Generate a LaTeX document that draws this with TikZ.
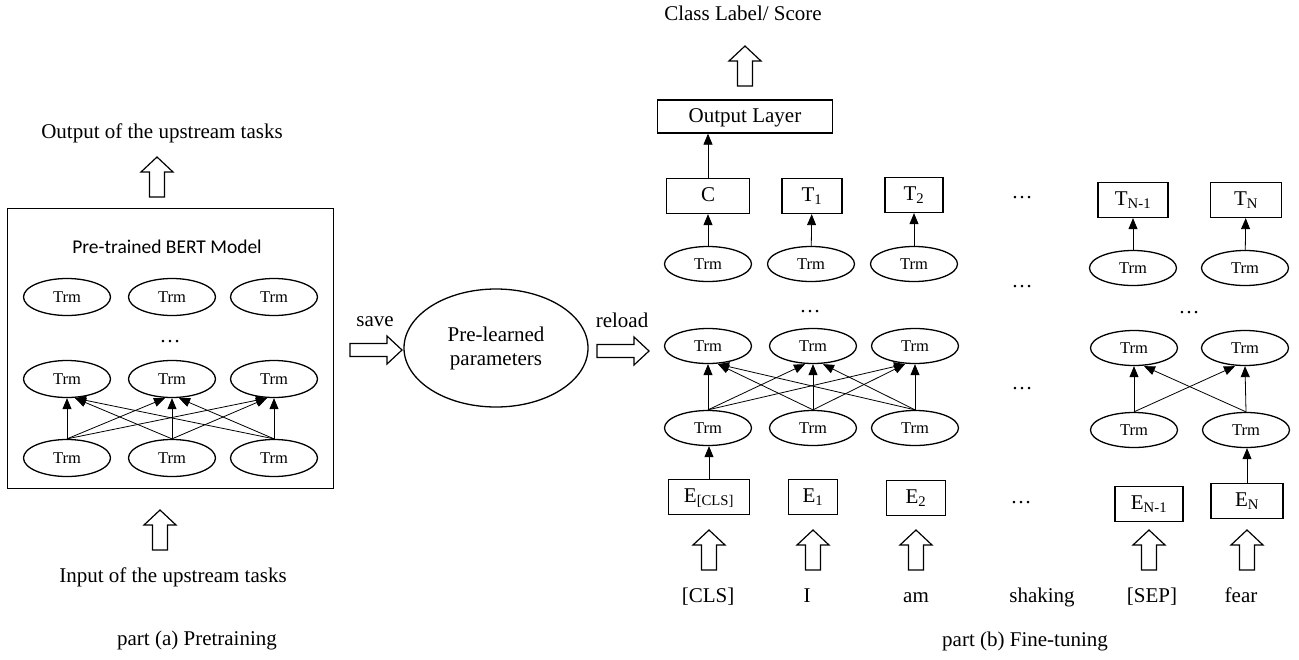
\documentclass[tikz,border=0pt]{standalone}
\usepackage{fontspec}
\setmainfont{Liberation Serif}
\newfontfamily\carlito{Carlito}
\usetikzlibrary{shapes.geometric,arrows.meta,calc}
\tikzset{
  lbl/.style={font=\fontsize{21}{25}\selectfont, inner sep=0, text height=14pt, text depth=4pt},
  dotsty/.style={font=\fontsize{21}{25}\selectfont, inner sep=0},
  trm/.style={ellipse, draw, line width=1.3pt, minimum width=87pt, minimum height=35pt, inner sep=0, font=\fontsize{16.5}{18}\selectfont, text height=11pt, text depth=0pt},
  atrm/.style={trm, minimum height=37pt},
  tbox/.style={rectangle, draw, line width=1.3pt, minimum height=35pt, inner sep=0, font=\fontsize{21}{24}\selectfont, text height=14pt, text depth=3pt},
  conn/.style={line width=0.8pt, -{Triangle[length=11pt,width=9pt]}},
  uparr/.pic={\draw[line width=1.2pt, line join=miter, fill=white] (-7.5,0) -- (-7.5,-25) -- (-16,-25) -- (0,-40) -- (16,-25) -- (7.5,-25) -- (7.5,0) -- cycle;},
  rightarr/.pic={\draw[line width=1.2pt, line join=miter, fill=white] (0,-6.5) -- (37,-6.5) -- (37,-14) -- (52,0) -- (37,14) -- (37,6.5) -- (0,6.5) -- cycle;},
}
\begin{document}
\begin{tikzpicture}[x=1pt,y=-1pt]
\useasboundingbox (0,0) rectangle (1299,659);
% ---------------- part (a)
\node[lbl] (outa) at (162,133) {Output of the upstream tasks};
\pic at (157,197) {uparr};
\node[draw, line width=1.3pt, minimum width=326pt, minimum height=280pt, inner sep=0] (bertbox) at (170.5,348.5) {};
\node[inner sep=0, font=\carlito\fontsize{19.5}{22}\selectfont] (berttitle) at (167,247) {Pre-trained BERT Model};
\foreach \i/\x in {1/67,2/172,3/274}{
  \node[atrm] (a\i) at (\x,297) {Trm};
  \node[atrm] (m\i) at (\x,379) {Trm};
  \node[atrm] (b\i) at (\x,458) {Trm};
}
\node[dotsty] (adots) at (170,342) {\ldots};
\foreach \s/\t/\o in {1/1/0,2/1/8,3/1/8,1/2/-7,2/2/0,3/2/7,1/3/-7,2/3/-7,3/3/0}
  \draw[conn] (b\s.north) -- ($(m\t.south)+(\o,0)$);
\pic at (160,550) {uparr};
\node[lbl] (ina) at (173,577) {Input of the upstream tasks};
\node[lbl] (parta) at (197,640) {part (a) Pretraining};
% ---------------- middle
\node[lbl] (save) at (375,321) {save};
\pic at (350,350) {rightarr};
\node[ellipse, draw, line width=1.3pt, minimum width=184pt, minimum height=118pt, inner sep=0, align=center, font=\fontsize{21}{24}\selectfont] (params) at (496,348) {Pre-learned\\parameters};
\node[lbl] (reload) at (622,322) {reload};
\pic at (597,351) {rightarr};
% ---------------- part (b)
\node[lbl] (cls) at (743,15) {Class Label/ Score};
\pic at (745,86) {uparr};
\node[tbox, minimum width=175pt, minimum height=33pt] (outl) at (745,116.5) {Output Layer};
\node[tbox, minimum width=83pt] (C) at (708,196) {C};
\node[tbox, minimum width=60pt] (T1) at (812,196) {T\textsubscript{1}};
\node[tbox, minimum width=58pt] (T2) at (914,195) {T\textsubscript{2}};
\node[tbox, minimum width=70pt] (TN1) at (1133,200) {T\textsubscript{N-1}};
\node[tbox, minimum width=71pt] (TN) at (1246,200) {T\textsubscript{N}};
\draw[conn] (C.north) -- (C.north |- outl.south);
% top Trm row
\node[trm] (P1) at (708,264) {Trm};
\node[trm] (P2) at (811,264) {Trm};
\node[trm] (P3) at (914,264) {Trm};
\node[trm] (PN1) at (1133,268) {Trm};
\node[trm] (PN) at (1245,268) {Trm};
\draw[conn] (P1) -- (C);
\draw[conn] (P2) -- (T1);
\draw[conn] (P3) -- (T2);
\draw[conn] (PN1) -- (TN1);
\draw[conn] (PN) -- (TN);
% middle Trm row
\node[trm] (U1) at (708,346) {Trm};
\node[trm] (U2) at (813,346) {Trm};
\node[trm] (U3) at (915,346) {Trm};
\node[trm] (UN1) at (1134,348) {Trm};
\node[trm] (UN) at (1245,348) {Trm};
% lower Trm row
\node[trm] (L1) at (708,428) {Trm};
\node[trm] (L2) at (813,428) {Trm};
\node[trm] (L3) at (915,428) {Trm};
\node[trm] (LN1) at (1134,430) {Trm};
\node[trm] (LN) at (1246,430) {Trm};
\foreach \s/\t/\o in {1/1/0,2/1/10,3/1/10,1/2/-8,2/2/0,3/2/10,1/3/-10,2/3/-10,3/3/0}
  \draw[conn] (L\s.north) -- ($(U\t.south)+(\o,0)$);
\draw[conn] (LN1.north) -- (UN1.south);
\draw[conn] (LN1.north) -- ($(UN.south)+(-10,0)$);
\draw[conn] (LN.north) -- ($(UN1.south)+(10,0)$);
\draw[conn] (LN.north) -- (UN.south);
% dots
\node[dotsty] (d1) at (810,312) {\ldots};
\node[dotsty] (d2) at (1022,198) {\ldots};
\node[dotsty] (d3) at (1022,287) {\ldots};
\node[dotsty] (d4) at (1189,313) {\ldots};
\node[dotsty] (d5) at (1022,389) {\ldots};
\node[dotsty] (d6) at (1021,503) {\ldots};
% embeddings
\node[tbox, minimum width=81pt] (E0) at (709,497) {E\textsubscript{[CLS]}};
\node[tbox, minimum width=49pt] (E1) at (813,497) {E\textsubscript{1}};
\node[tbox, minimum width=59pt] (E2) at (916,498) {E\textsubscript{2}};
\node[tbox, minimum width=68pt] (EN1) at (1149,504) {E\textsubscript{N-1}};
\node[tbox, minimum width=72pt] (EN) at (1247,501) {E\textsubscript{N}};
\draw[conn] (E0.north) -- (E0.north |- L1.south);
\draw[conn] (EN.north) -- (EN.north |- LN.south);
\foreach \x in {709,813,916,1149,1247}
  \pic at (\x,570) {uparr};
% words
\node[lbl] (w0) at (708,597) {[CLS]};
\node[lbl] (w1) at (807,597) {I};
\node[lbl] (w2) at (916,597) {am};
\node[lbl] (w3) at (1042,597) {shaking};
\node[lbl] (w4) at (1152,597) {[SEP]};
\node[lbl] (w5) at (1241,597) {fear};
\node[lbl] (partb) at (1025,641) {part (b) Fine-tuning};
\end{tikzpicture}
\end{document}
